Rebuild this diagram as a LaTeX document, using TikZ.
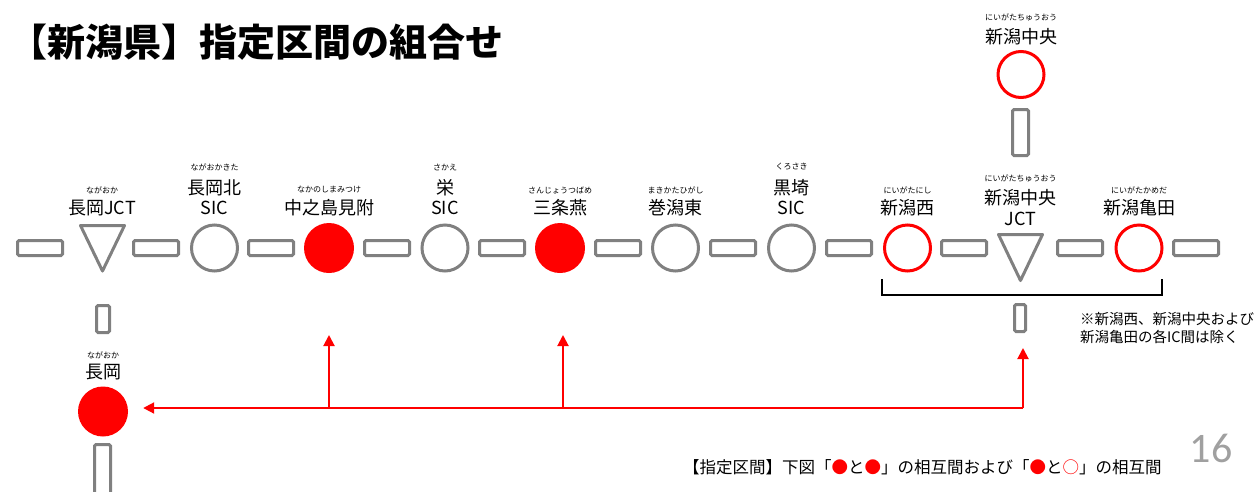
\documentclass[tikz,border=0pt]{standalone}
\usepackage{fontspec}
\setmainfont{Noto Sans CJK JP}
\newfontfamily\numfont{Carlito}
\usetikzlibrary{arrows.meta}
\definecolor{gline}{RGB}{128,128,128}
\definecolor{jred}{RGB}{255,0,0}
\definecolor{pgnum}{RGB}{160,160,160}
\begin{document}
\begin{tikzpicture}[x=1pt,y=-1pt,
  link/.style={draw=gline,line width=3pt,rounded corners=1.5pt,minimum width=45pt,minimum height=15pt,inner sep=0pt},
  vlink/.style={draw=gline,line width=3pt,rounded corners=1.5pt,minimum width=13pt,minimum height=27pt,inner sep=0pt},
  ic/.style={circle,draw=gline,line width=3pt,minimum size=46pt,inner sep=0pt},
  icred/.style={circle,draw=jred,line width=3pt,minimum size=46pt,inner sep=0pt},
  icfill/.style={circle,fill=jred,draw=none,minimum size=50pt,inner sep=0pt},
  jct/.style={draw=gline,line width=3pt,line join=round},
  lbl/.style={font=\fontsize{18}{20}\selectfont,inner sep=0pt},
  furi/.style={font=\fontsize{8}{9}\selectfont,inner sep=0pt},
  rarrow/.style={draw=jred,line width=2pt,-{Triangle[length=11pt,width=11pt]}},
  brk/.style={draw=black,line width=2pt}
]
\useasboundingbox (0,0) rectangle (1259,491);

% title
\node[anchor=west,inner sep=0pt,font=\fontsize{38}{42}\selectfont\bfseries] (title) at (9,42) {【新潟県】指定区間の組合せ};

% main row links
\foreach \i/\x in {1/40,2/156,3/271,4/387,5/502,6/618,7/733,8/849,9/964,10/1080,11/1196}
  \node[link] (k\i) at (\x,248) {};

% junction triangles
\draw[jct] (80.5,225.5) -- (124.5,225.5) -- (102.5,271) -- cycle;
\coordinate (jn) at (102.5,248);
\draw[jct] (998.5,234.5) -- (1042.5,234.5) -- (1020.5,280.5) -- cycle;
\coordinate (jc) at (1020.5,258);

% interchanges
\node[ic] (nk) at (214.5,248) {};
\node[icfill] (nm) at (329,248) {};
\node[ic] (sk) at (445,248) {};
\node[icfill] (st) at (560,248) {};
\node[ic] (mk) at (675.5,248) {};
\node[ic] (kr) at (791.5,248) {};
\node[icred] (nw) at (907.5,248) {};
\node[icred] (kt) at (1139,248) {};

% labels
\node[furi] (f1) at (102,190) {ながおか};
\node[lbl] (l1) at (102,208) {長岡JCT};
\node[furi] (f2) at (214.5,167) {ながおかきた};
\node[lbl] (l2a) at (214.5,188) {長岡北};
\node[lbl] (l2b) at (214.5,208) {SIC};
\node[furi] (f3) at (329,190) {なかのしまみつけ};
\node[lbl] (l3) at (329,208) {中之島見附};
\node[furi] (f4) at (445,167) {さかえ};
\node[lbl] (l4a) at (445,188) {栄};
\node[lbl] (l4b) at (445,208) {SIC};
\node[furi] (f5) at (560,190) {さんじょうつばめ};
\node[lbl] (l5) at (560,208) {三条燕};
\node[furi] (f6) at (675.5,190) {まきかたひがし};
\node[lbl] (l6) at (675.5,208) {巻潟東};
\node[furi] (f7) at (791.5,167) {くろさき};
\node[lbl] (l7a) at (791.5,188) {黒埼};
\node[lbl] (l7b) at (791.5,208) {SIC};
\node[furi] (f8) at (907.5,190) {にいがたにし};
\node[lbl] (l8) at (907.5,208) {新潟西};
\node[furi] (f9) at (1020.5,178) {にいがたちゅうおう};
\node[lbl] (l9a) at (1020.5,198) {新潟中央};
\node[lbl] (l9b) at (1020.5,219) {JCT};
\node[furi] (f10) at (1139,190) {にいがたかめだ};
\node[lbl] (l10) at (1139,208) {新潟亀田};

% upper branch: Niigata-Chuo
\node[icred] (nc) at (1021,74.5) {};
\node[vlink,minimum width=16pt,minimum height=46pt] (kup) at (1020.5,132.5) {};
\node[furi] (f11) at (1021,17) {にいがたちゅうおう};
\node[lbl] (l11) at (1021,37) {新潟中央};

% lower stub at Niigata-Chuo JCT
\node[vlink,minimum width=11pt] (kjc) at (1020,318) {};

% bracket
\draw[brk] (882,279) -- (882,295) -- (1162,295) -- (1162,279);

% note
\begin{scope}
\clip (1060,300) rectangle (1259,360);
\node[anchor=north west,inner sep=0pt,align=left,font=\fontsize{14.5}{18.5}\selectfont] (note) at (1080,312) {※新潟西、新潟中央および\\新潟亀田の各IC間は除く};
\end{scope}

% lower branch: Nagaoka
\node[vlink] (kna) at (103,319) {};
\node[furi] (f12) at (103,355) {ながおか};
\node[lbl] (l12) at (103,372) {長岡};
\node[icfill] (ng) at (103,411.5) {};
\node[vlink,minimum width=16pt,minimum height=60pt] (kbot) at (102.5,474.5) {};

% red arrows
\coordinate (hub) at (1023,408);
\coordinate (hm) at (329,408);
\coordinate (hs) at (563,408);
\draw[rarrow] (hub) -- ([xshift=15pt]ng.east |- hub);
\draw[rarrow] (hm) -- (329,335);
\draw[rarrow] (hs) -- (563,335);
\draw[rarrow] (hub) -- (1023,348);

% footer
\node[anchor=west,inner sep=0pt,font=\fontsize{16.5}{18}\selectfont] (foot) at (683,467) {【指定区間】下図「\textcolor{jred}{●}と\textcolor{jred}{●}」の相互間および「\textcolor{jred}{●}と\textcolor{jred}{○}」の相互間};
\node[anchor=center,inner sep=0pt,text=pgnum,font=\numfont\fontsize{42}{44}\selectfont] (pg) at (1211,448) {16};
\end{tikzpicture}
\end{document}
